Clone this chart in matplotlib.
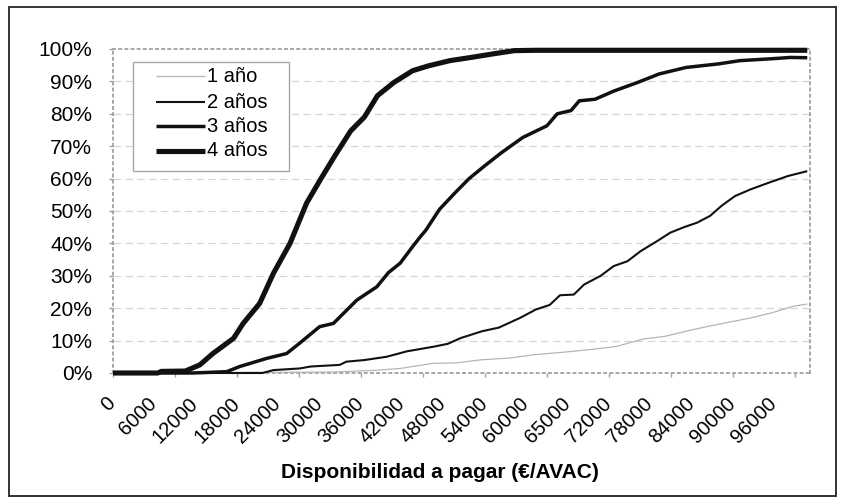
import matplotlib
matplotlib.use("Agg")
import matplotlib.pyplot as plt
from matplotlib.lines import Line2D
from matplotlib.patches import Rectangle
from matplotlib.ticker import FixedLocator, NullFormatter

plt.rcParams['font.family'] = ['Liberation Sans', 'DejaVu Sans']

# ---------------- data (x in €/AVAC, y in %) ----------------
series_names = ["1 año", "2 años", "3 años", "4 años"]

x1 = [0, 32000, 38000, 41700, 46500, 49700, 53600, 57500, 61400, 65300, 69200,
      73100, 77000, 80100, 83200, 86400, 89500, 92600, 95700, 98800, 100800]
y1 = [0, 0.3, 0.8, 1.4, 3.0, 3.1, 4.1, 4.6, 5.7, 6.4, 7.2,
      8.2, 10.5, 11.3, 12.9, 14.4, 15.7, 17.0, 18.6, 20.6, 21.3]

x2 = [0, 21700, 23300, 27100, 28700, 32900, 33900, 36500, 39700, 42700, 46500,
      48600, 50500, 53600, 56000, 59100, 61400, 63400, 64900, 66900, 68400,
      70800, 72700, 74700, 76600, 79000, 80900, 82900, 84800, 86700, 88300,
      90300, 92600, 95300, 98000, 100800]
y2 = [0, 0, 0.9, 1.4, 2.0, 2.5, 3.5, 4.0, 5.0, 6.7, 8.1,
      9.0, 10.8, 12.9, 14.0, 17.0, 19.6, 21.0, 24.0, 24.2, 27.3,
      30.0, 33.0, 34.5, 37.6, 40.7, 43.3, 45.0, 46.4, 48.5, 51.5,
      54.6, 56.7, 58.8, 60.8, 62.3]

x3 = [0, 11500, 16500, 18400, 22300, 25200, 27100, 30000, 32000, 35400, 38300,
      40000, 41700, 43500, 44600, 45400, 47400, 49700, 51700, 54000, 56400,
      59500, 63000, 64500, 66500, 67700, 70000, 72700, 76200, 79300, 83200,
      87900, 91000, 95700, 98400, 100800]
y3 = [0, 0, 0.4, 2.0, 4.5, 6.0, 9.2, 14.3, 15.3, 22.5, 26.6,
      31.0, 33.9, 39.0, 42.0, 44.0, 50.5, 55.7, 60.0, 64.0, 68.0,
      72.7, 76.3, 80.0, 81.0, 84.0, 84.5, 87.0, 89.7, 92.3, 94.3,
      95.4, 96.4, 97.0, 97.4, 97.3]

x4 = [0, 6500, 7000, 10500, 12600, 14500, 17500, 18900, 21300, 23300, 25700,
      28100, 30200, 32200, 34500, 36500, 38400, 40800, 43500, 45800, 48900,
      52000, 55200, 58300, 61400, 100800]
y4 = [0, 0, 0.5, 0.6, 2.5, 6.0, 10.7, 15.3, 21.5, 30.8, 40.0,
      52.4, 60.0, 67.0, 74.7, 79.0, 85.6, 89.7, 93.3, 94.8, 96.4,
      97.4, 98.5, 99.5, 99.6, 99.6]

x_label_pos = [0, 6000, 12000, 18000, 24000, 30000, 36000, 42000, 48000, 54000,
               60000, 66000, 72000, 78000, 84000, 90000, 96000]
x_label_txt = ["0", "6000", "12000", "18000", "24000", "30000", "36000", "42000",
               "48000", "54000", "60000", "65000", "72000", "78000", "84000",
               "90000", "96000"]
x_major_ticks = list(range(0, 100000, 9000))
y_ticks = list(range(0, 101, 10))
y_tick_txt = [f"{v}%" for v in y_ticks]
x_title = "Disponibilidad a pagar (€/AVAC)"

# ---------------- figure ----------------
W, H = 842, 500
fig = plt.figure(figsize=(W / 100, H / 100), dpi=100)
fig.patch.set_facecolor("white")

def fx(px):
    return px / W

def fy(py):
    return 1 - py / H

ax = fig.add_axes([fx(113), fy(373), fx(810) - fx(113), fy(49) - fy(373)])
ax.set_xlim(0, 101200)
ax.set_ylim(0, 100)

styles = [
    dict(color="#b5b5b5", lw=0.9),
    dict(color="#111111", lw=1.5),
    dict(color="#111111", lw=2.5),
    dict(color="#111111", lw=3.7),
]
data = [(x1, y1), (x2, y2), (x3, y3), (x4, y4)]
for (xs, ys), st in zip(data, styles):
    ax.plot(xs, ys, solid_joinstyle="round", solid_capstyle="butt", zorder=3,
            clip_on=False, **st)

# grid
for v in y_ticks[1:-1]:
    ax.axhline(v, color="#d6d6d6", lw=0.9, ls=(0, (6, 3.5)), zorder=1)

for s in ax.spines.values():
    s.set_color("#a0a0a0")
    s.set_linewidth(1.3)
    s.set_linestyle((0, (1.2, 2.2)))

ax.set_yticks(y_ticks)
ax.set_yticklabels(y_tick_txt, fontsize=15)
ax.tick_params(axis="y", length=3, width=1, color="#a0a0a0", pad=12)
ax.xaxis.set_major_locator(FixedLocator(x_major_ticks))
ax.xaxis.set_major_formatter(NullFormatter())
ax.tick_params(axis="x", length=3, width=1, color="#a0a0a0")

for pos, txt in zip(x_label_pos, x_label_txt):
    ax.annotate(txt, xy=(pos, 0), xycoords=("data", "axes fraction"),
                xytext=(-7, -21), textcoords="offset pixels",
                rotation=45, ha="right", va="top", rotation_mode="anchor",
                fontsize=14.5, annotation_clip=False)

fig.text(fx(440), fy(472), x_title, fontsize=15, fontweight="bold",
         ha="center", va="center")

# legend (manual box)
fig.add_artist(Rectangle((fx(133), fy(171)), fx(289) - fx(133), fy(62) - fy(171),
                         transform=fig.transFigure, fill=True, facecolor="white",
                         edgecolor="#a8a8a8", lw=1.0, zorder=5))
rows = [76, 102, 126, 151]
for name, st, ry in zip(series_names, styles, rows):
    fig.add_artist(Line2D([fx(156), fx(205)], [fy(ry), fy(ry)],
                          transform=fig.transFigure, zorder=6,
                          solid_capstyle="butt", **st))
    fig.text(fx(207), fy(ry), name, fontsize=14.5, ha="left", va="center", zorder=6)

# outer frame
fig.add_artist(Rectangle((fx(9), fy(496)), fx(836) - fx(9), fy(7) - fy(496),
                         transform=fig.transFigure, fill=False,
                         edgecolor="#333333", lw=1.4, zorder=10))

fig.savefig("out.png", dpi=100)
